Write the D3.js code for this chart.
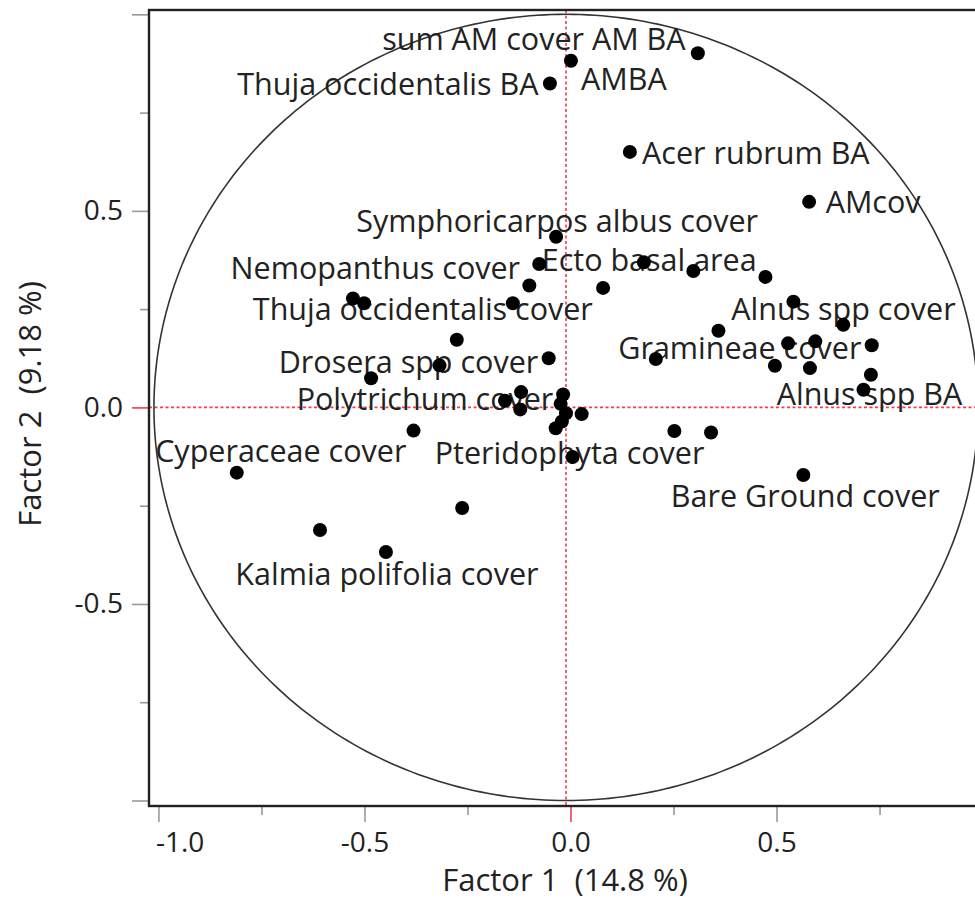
<!DOCTYPE html>
<html>
<head>
<meta charset="utf-8">
<script src="https://cdn.jsdelivr.net/npm/d3@7"></script>
<style>
  body { margin: 0; background: #fff; }
  svg { display: block; font-family: "Open Sans", sans-serif; }
</style>
</head>
<body>
<section></section>
<script>
// loadings on the first two factors
var factor1 = [0.320, 0.012, -0.039, 0.155, 0.590, -0.024, -0.065, 0.189, 0.309, 0.484,
  -0.089, 0.090, -0.129, 0.552, 0.673, -0.517, -0.490, -0.265, 0.370, 0.539,
  0.605, 0.742, -0.042, -0.307, 0.218, 0.507, 0.592, 0.740, 0.722, -0.473,
  -0.109, -0.148, -0.111, -0.007, -0.013, 0.000, -0.010, -0.025, 0.038, -0.370,
  0.263, 0.352, 0.016, 0.576, -0.799, -0.597, -0.252, -0.437];
var factor2 = [0.901, 0.882, 0.824, 0.650, 0.523, 0.434, 0.365, 0.369, 0.347, 0.332,
  0.310, 0.304, 0.265, 0.269, 0.210, 0.277, 0.265, 0.172, 0.195, 0.163,
  0.168, 0.158, 0.125, 0.107, 0.123, 0.106, 0.100, 0.083, 0.045, 0.074,
  0.039, 0.017, -0.005, 0.033, 0.009, -0.015, -0.036, -0.053, -0.017, -0.059,
  -0.060, -0.064, -0.126, -0.172, -0.166, -0.312, -0.256, -0.368];

// which point carries which label
var labelPoint = [0, 1, 2, 3, 4, 5, 6, 10, 12, 13, 23, 24, 31, 28, 42, 43, 44, 47];
var labelText = ["sum AM cover AM BA", "AMBA", "Thuja occidentalis BA", "Acer rubrum BA",
  "AMcov", "Symphoricarpos albus cover", "Ecto basal area", "Nemopanthus cover",
  "Thuja occidentalis cover", "Alnus spp cover", "Drosera spp cover", "Gramineae cover",
  "Polytrichum cover", "Alnus spp BA", "Pteridophyta cover", "Bare Ground cover",
  "Cyperaceae cover", "Kalmia polifolia cover"];
// label nudge from its point, in pixels
var labelNudge = [[-164, -14], [53, 19], [-162, 1], [126, 1], [64, 0], [1, -15], [110, -4],
  [-154, -17], [-90, 6], [50, 8], [-31, -3], [84, -11], [-80, -1], [6, 5], [-3, -4],
  [2, 21], [44, -21], [1, 22]];

var majorTicks = [-1.0, -0.5, 0.0, 0.5];
var minorTicks = [-0.75, -0.25, 0.25, 0.75];
var yMajorTicks = [-1.0, -0.5, 0.0, 0.5, 1.0];
var yTickLabels = [-0.5, 0.0, 0.5];

var margin = {top: 10, right: 0, bottom: 96, left: 149},
  width = 841,
  height = 796;

var svg = d3.select("section").append("svg")
  .attr("width", 975)
  .attr("height", 902);

var g = svg.append("g")
  .attr("transform", "translate(" + margin.left + "," + margin.top + ")");

var x = d3.scaleLinear().domain([-1.012, 1.029]).range([0, width]);
var y = d3.scaleLinear().domain([-1.014, 1.011]).range([height, 0]);

var red = "#ef3e52";
// plain hyphen for negatives, as in the original
var fmt = function(d) { return d3.format(".1f")(d).replace("\u2212", "-"); };

// x axis: major ticks with labels, minor ticks without
var xAxis = g.append("g")
  .attr("transform", "translate(4.5," + height + ")")
  .call(d3.axisBottom(x).tickValues(majorTicks).tickSize(16).tickPadding(10)
    .tickFormat(fmt));
g.append("g")
  .attr("transform", "translate(4.5," + height + ")")
  .call(d3.axisBottom(x).tickValues(minorTicks).tickSize(9).tickFormat(""));

var yAxis = g.append("g")
  .call(d3.axisLeft(y).tickValues(yMajorTicks).tickSize(17).tickPadding(9)
    .tickFormat(function(d) { return yTickLabels.indexOf(d) >= 0 ? fmt(d) : ""; }));
g.append("g")
  .call(d3.axisLeft(y).tickValues(minorTicks).tickSize(9).tickFormat(""));

g.selectAll(".domain").remove();
g.selectAll(".tick line")
  .attr("stroke", function(d) { return d === 0 ? red : "#9a9a9a"; })
  .attr("stroke-width", 1.6);
g.selectAll(".tick text")
  .attr("fill", "#222")
  .style("font-size", "28px")
  .style("font-family", "'Open Sans', sans-serif");
// keep the first x label inside the frame like the original
xAxis.selectAll(".tick text")
  .filter(function(d) { return d === -1; })
  .attr("text-anchor", "start")
  .attr("x", -3);

// reference lines through the origin
g.append("line")
  .attr("x1", 0).attr("x2", width + 20)
  .attr("y1", y(0)).attr("y2", y(0))
  .attr("stroke", red).attr("stroke-width", 1.6)
  .attr("stroke-dasharray", "3,2.5");
g.append("line")
  .attr("x1", x(0)).attr("x2", x(0))
  .attr("y1", 0).attr("y2", height)
  .attr("stroke", red).attr("stroke-width", 1.6)
  .attr("stroke-dasharray", "3,2.5");

// unit circle
var circle = d3.line()
  .x(function(a) { return x(Math.cos(a * Math.PI / 180)); })
  .y(function(a) { return y(Math.sin(a * Math.PI / 180)); });
g.append("path")
  .datum(d3.range(0, 361, 1))
  .attr("d", circle)
  .attr("fill", "none")
  .attr("stroke", "#333")
  .attr("stroke-width", 1.6);

// frame
g.append("rect")
  .attr("x", 0).attr("y", 0)
  .attr("width", width + 20).attr("height", height)
  .attr("fill", "none")
  .attr("stroke", "#222")
  .attr("stroke-width", 2.4);

// labels
g.selectAll(".label")
  .data(labelPoint)
  .enter().append("text")
  .attr("class", "label")
  .attr("x", function(d, i) { return x(factor1[d]) + labelNudge[i][0]; })
  .attr("y", function(d, i) { return y(factor2[d]) + labelNudge[i][1]; })
  .attr("dy", "0.35em")
  .attr("text-anchor", "middle")
  .attr("fill", "#222")
  .style("font-size", "30.5px")
  .text(function(d, i) { return labelText[i]; });

// points
g.selectAll(".dot")
  .data(factor1)
  .enter().append("circle")
  .attr("class", "dot")
  .attr("cx", function(d) { return x(d); })
  .attr("cy", function(d, i) { return y(factor2[i]); })
  .attr("r", 7)
  .attr("fill", "#000");

// axis titles
svg.append("text")
  .attr("x", 565).attr("y", 880).attr("dy", "0.35em")
  .attr("text-anchor", "middle")
  .attr("fill", "#222")
  .style("font-size", "31px")
  .style("white-space", "pre")
  .text("Factor 1  (14.8 %)");
svg.append("text")
  .attr("transform", "translate(30,404) rotate(-90)")
  .attr("dy", "0.35em")
  .attr("text-anchor", "middle")
  .attr("fill", "#222")
  .style("font-size", "31px")
  .style("white-space", "pre")
  .text("Factor 2  (9.18 %)");
</script>
</body>
</html>
